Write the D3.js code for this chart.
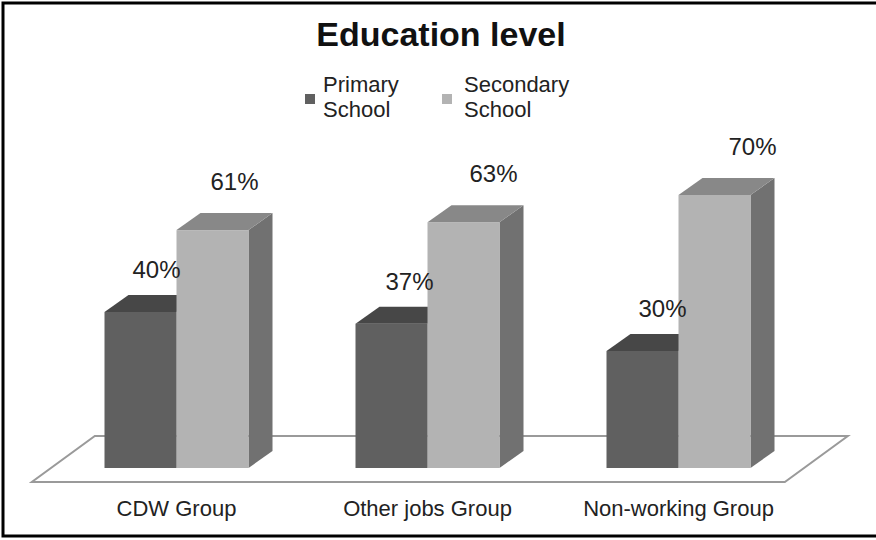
<!DOCTYPE html>
<html>
<head>
<meta charset="utf-8">
<script src="https://cdn.jsdelivr.net/npm/d3@7"></script>
<style>
  html, body { margin: 0; padding: 0; background: #fff; }
  svg { display: block; }
  text { font-family: "Liberation Sans", Arial, sans-serif; fill: #111; }
</style>
</head>
<body>
<svg id="chart" width="876" height="540"></svg>
<script>
// Chart data
const categories = ["CDW Group", "Other jobs Group", "Non-working Group"];
const seriesNames = [["Primary", "School"], ["Secondary", "School"]];
const primarySchool = [40, 37, 30];
const secondarySchool = [61, 63, 70];
const titleText = "Education level";

const W = 876, H = 540;
const svg = d3.select("#chart");

// Face colours per series: front, top, side
const faces = [
  { front: "#606060", top: "#474747", side: "#505050" },
  { front: "#b3b3b3", top: "#888888", side: "#717171" }
];

// Scales
const baseY = 468;
const y = d3.scaleLinear().domain([0, 100]).range([baseY, 78]);
const x = d3.scaleBand().domain(categories).range([51, 804]).paddingInner(0).paddingOuter(0);
const barW = 72;
const depthX = 24, depthY = 17;
const floorFront = 14, floorBack = 32, floorSlope = 63 / 46;

// Outer frame
svg.append("rect")
  .attr("x", 3).attr("y", 3)
  .attr("width", W + 10).attr("height", 533)
  .attr("fill", "none").attr("stroke", "#000").attr("stroke-width", 3);

// Title
svg.append("text")
  .attr("x", 441).attr("y", 46)
  .attr("text-anchor", "middle")
  .attr("font-size", 34).attr("font-weight", "bold")
  .text(titleText);

// Legend
const legendPos = [{ sx: 305, tx: 323 }, { sx: 442, tx: 464 }];
seriesNames.forEach((lines, i) => {
  const g = svg.append("g");
  g.append("rect")
    .attr("x", legendPos[i].sx).attr("y", 94)
    .attr("width", 10).attr("height", 10)
    .attr("fill", faces[i].front);
  const t = g.append("text")
    .attr("x", legendPos[i].tx).attr("y", 92)
    .attr("font-size", 22).style("fill", "#222");
  lines.forEach((ln, k) => {
    t.append("tspan").attr("x", legendPos[i].tx).attr("dy", k === 0 ? 0 : 25).text(ln);
  });
});

// Floor plane
const [r0, r1] = x.range();
const yF = baseY + floorFront, yB = baseY - floorBack;
const floorPts = [
  [r0 - floorFront * floorSlope, yF],
  [r1 - floorFront * floorSlope, yF],
  [r1 + floorBack * floorSlope, yB],
  [r0 + floorBack * floorSlope, yB]
];
svg.append("polygon")
  .attr("points", floorPts.map(p => p.join(",")).join(" "))
  .attr("fill", "#fff").attr("stroke", "#9a9a9a").attr("stroke-width", 2);

// 3D bars
function bar3d(x0, value, c) {
  const x1 = x0 + barW;
  const yt = y(value), yb = y(0);
  const g = svg.append("g");
  g.append("polygon")
    .attr("points", [[x1, yt], [x1 + depthX, yt - depthY], [x1 + depthX, yb - depthY], [x1, yb]].map(p => p.join(",")).join(" "))
    .attr("fill", c.side);
  g.append("rect")
    .attr("x", x0).attr("y", yt).attr("width", barW).attr("height", yb - yt)
    .attr("fill", c.front);
  g.append("polygon")
    .attr("points", [[x0, yt], [x0 + depthX, yt - depthY], [x1 + depthX, yt - depthY], [x1, yt]].map(p => p.join(",")).join(" "))
    .attr("fill", c.top);
}

categories.forEach((cat, i) => {
  const cx = x(cat) + x.bandwidth() / 2;
  bar3d(cx - barW, primarySchool[i], faces[0]);
  bar3d(cx, secondarySchool[i], faces[1]);
});

// Value labels
categories.forEach((cat, i) => {
  const cx = x(cat) + x.bandwidth() / 2;
  svg.append("text")
    .attr("x", cx - barW / 2 + 16 + i * 2).attr("y", y(primarySchool[i]) - 34)
    .attr("text-anchor", "middle").attr("font-size", 24).style("fill", "#222")
    .text(primarySchool[i] + "%");
  svg.append("text")
    .attr("x", cx + barW / 2 + 22 + i * 8).attr("y", y(secondarySchool[i]) - 40)
    .attr("text-anchor", "middle").attr("font-size", 24).style("fill", "#222")
    .text(secondarySchool[i] + "%");
});

// Category labels
categories.forEach((cat) => {
  svg.append("text")
    .attr("x", x(cat) + x.bandwidth() / 2).attr("y", 516)
    .attr("text-anchor", "middle").attr("font-size", 22).style("fill", "#222")
    .text(cat);
});
</script>
</body>
</html>
